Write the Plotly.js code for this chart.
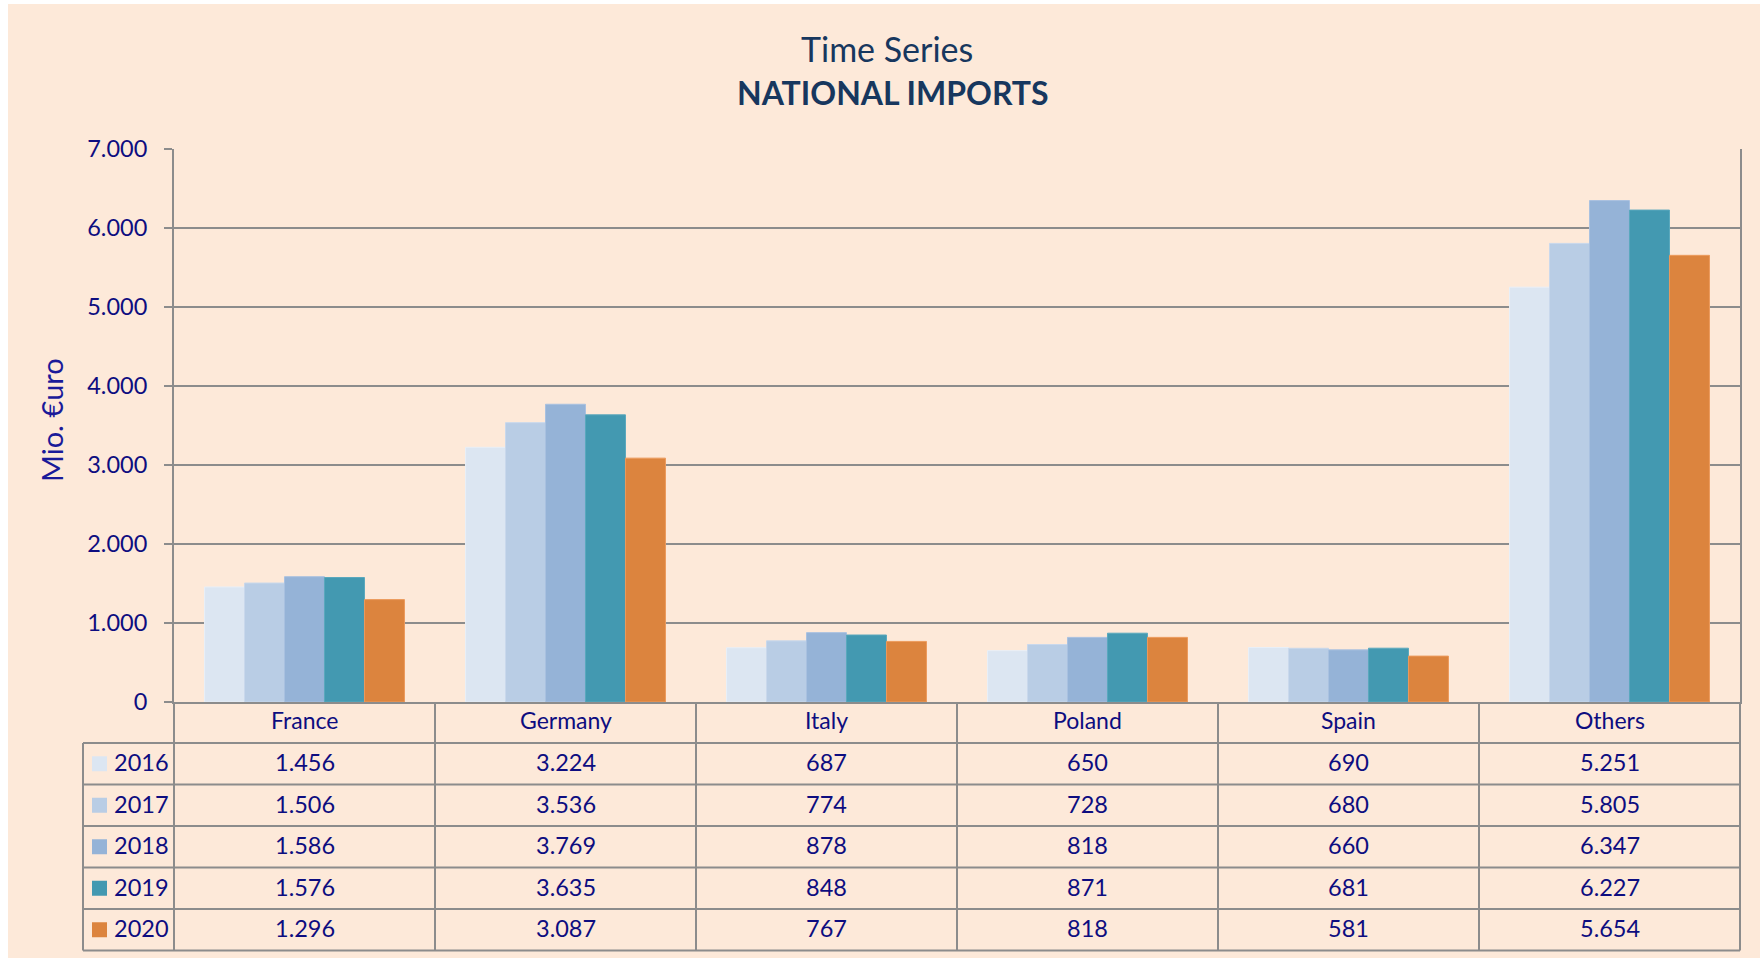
<!DOCTYPE html>
<html>
<head>
<meta charset="utf-8">
<script src="https://cdn.plot.ly/plotly-3.0.1.min.js"></script>
<style>
  html, body { margin: 0; padding: 0; background: #ffffff; }
  #chart { position: absolute; left: 8px; top: 4px; width: 1752px; height: 954px; }
</style>
</head>
<body>
<div id="chart"></div>
<script>
// ---- data ----
const categories = ["France", "Germany", "Italy", "Poland", "Spain", "Others"];
const years = ["2016", "2017", "2018", "2019", "2020"];
const v2016 = [1456, 3224, 687, 650, 690, 5251];
const v2017 = [1506, 3536, 774, 728, 680, 5805];
const v2018 = [1586, 3769, 878, 818, 660, 6347];
const v2019 = [1576, 3635, 848, 871, 681, 6227];
const v2020 = [1296, 3087, 767, 818, 581, 5654];
const seriesValues = [v2016, v2017, v2018, v2019, v2020];
const titleLine1 = "Time Series";
const titleLine2 = "NATIONAL IMPORTS";
const yTitle = "Mio. €uro";

// ---- style ----
const colors = ["#DCE6F2", "#B9CDE5", "#95B3D7", "#4399B1", "#DC843E"];
const edge = ["#E8EFF7", "#C9D8EC", "#A9C1E0", "#5AA8BD", "#EC9A5C"];
const bg = "#FDE9D9";
const gridCol = "#8C8C8C";
const textCol = "#0D0D80";
const titleCol = "#17375E";
const FONT = "Lato, 'Open Sans', sans-serif";

// plot area in image pixels
const L = 174, R = 1740, T = 149, B = 702;
const OFFX = 8, OFFY = 4, IMGW = 1760, IMGH = 958;
const px = x => (x - L) / (R - L);
const py = y => (B - y) / (B - T);
const TXT_SHIFT = -1.5;

function fmt(n) {
  const s = String(Math.round(n));
  return s.replace(/\B(?=(\d{3})+(?!\d))/g, ".");
}

const traces = years.map((yr, i) => ({
  type: "bar",
  name: yr,
  x: categories,
  y: seriesValues[i],
  marker: { color: colors[i], line: { color: edge[i], width: 1 } },
  hoverinfo: "x+y+name"
}));

// table geometry
const catRowTop = 702, catRowBot = 743, rowH = 41.5;
const tableLeft = 83;
const lastRowBot = catRowBot + rowH * years.length;

const shapes = [];
const lineStyle = { color: gridCol, width: 2 };
for (let r = 0; r <= years.length; r++) {
  const y = catRowBot + r * rowH;
  shapes.push({ type: "line", xref: "paper", yref: "paper",
    x0: px(tableLeft), x1: 1, y0: py(y), y1: py(y), line: lineStyle });
}
for (let c = 0; c <= categories.length; c++) {
  const xp = c / categories.length;
  shapes.push({ type: "line", xref: "paper", yref: "paper",
    x0: xp, x1: xp, y0: py(catRowTop), y1: py(lastRowBot), line: lineStyle });
}
shapes.push({ type: "line", xref: "paper", yref: "paper",
  x0: px(tableLeft), x1: px(tableLeft), y0: py(catRowBot), y1: py(lastRowBot), line: lineStyle });

const annotations = [];
annotations.push({ xref: "paper", yref: "paper", x: px(887), y: py(48), xanchor: "center", yanchor: "middle",
  text: titleLine1, showarrow: false, font: { family: FONT, size: 34, color: titleCol } });
annotations.push({ xref: "paper", yref: "paper", x: px(893), y: py(92), xanchor: "center", yanchor: "middle",
  text: "<b>" + titleLine2 + "</b>", showarrow: false, font: { family: FONT, size: 32, color: titleCol } });
annotations.push({ xref: "paper", yref: "paper", x: px(51), y: py(420), xanchor: "center", yanchor: "middle",
  text: yTitle, textangle: -90, showarrow: false, font: { family: FONT, size: 29, color: "#1A1A99" } });
categories.forEach(cat => {
  annotations.push({ xref: "x", yref: "paper", x: cat, y: py((catRowTop + catRowBot) / 2 + TXT_SHIFT - 1),
    xanchor: "center", yanchor: "middle", text: cat, showarrow: false,
    font: { family: FONT, size: 23, color: textCol } });
});
years.forEach((yr, r) => {
  const yc = catRowBot + r * rowH + rowH / 2;
  categories.forEach((cat, c) => {
    annotations.push({ xref: "x", yref: "paper", x: cat, y: py(yc + TXT_SHIFT),
      xanchor: "center", yanchor: "middle", text: fmt(seriesValues[r][c]), showarrow: false,
      font: { family: FONT, size: 23.5, color: textCol } });
  });
  annotations.push({ xref: "paper", yref: "paper", x: px(112), y: py(yc + TXT_SHIFT),
    xanchor: "left", yanchor: "middle", text: yr, showarrow: false,
    font: { family: FONT, size: 23.5, color: textCol } });
  shapes.push({ type: "rect", xref: "paper", yref: "paper",
    x0: px(92), x1: px(107), y0: py(yc - 7.5), y1: py(yc + 7.5),
    fillcolor: colors[r], line: { width: 0 } });
});

const layout = {
  width: IMGW - OFFX, height: IMGH - OFFY,
  paper_bgcolor: bg, plot_bgcolor: bg,
  margin: { l: L - OFFX, r: IMGW - R, t: T - OFFY, b: IMGH - B, pad: 0 },
  separators: ",.",
  barmode: "group", bargap: 0.234, bargroupgap: 0,
  showlegend: false,
  font: { family: FONT, color: textCol },
  xaxis: {
    type: "category", range: [-0.5, categories.length - 0.5],
    showticklabels: false, ticks: "", showgrid: false,
    showline: true, linecolor: gridCol, linewidth: 2, mirror: false, zeroline: false
  },
  yaxis: {
    range: [0, 7000], dtick: 1000, tick0: 0,
    separatethousands: true, tickformat: ",d",
    showgrid: true, gridcolor: gridCol, gridwidth: 2,
    showline: true, linecolor: gridCol, linewidth: 2, mirror: true,
    ticks: "outside", ticklen: 8, tickcolor: gridCol, tickwidth: 2,
    ticklabelstandoff: 12,
    tickfont: { family: FONT, size: 23.5, color: textCol },
    zeroline: false
  },
  shapes: shapes,
  annotations: annotations
};

Plotly.newPlot("chart", traces, layout, { displayModeBar: false, staticPlot: true });
</script>
</body>
</html>
